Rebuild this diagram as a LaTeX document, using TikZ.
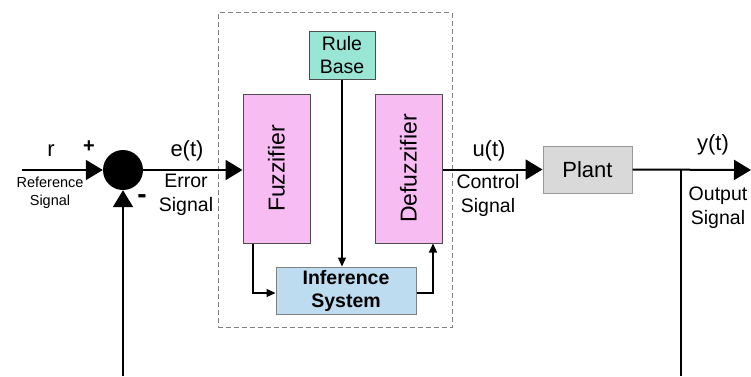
\documentclass[tikz,border=0pt]{standalone}
\usepackage{fontspec}
\setmainfont{Liberation Sans}
\usetikzlibrary{arrows.meta}
\definecolor{pinkfill}{HTML}{F7BDF2}
\definecolor{rulefill}{HTML}{99E6D5}
\definecolor{inffill}{HTML}{BDDCF0}
\definecolor{plantfill}{HTML}{D9D9D9}
\definecolor{boxedge}{HTML}{4D4D4D}
\definecolor{dashgray}{HTML}{808080}
\tikzset{
  mainline/.style={line width=2pt, -{Triangle[length=17pt,width=20pt]}},
  plainline/.style={line width=2pt},
  thinline/.style={line width=1.1pt, -{Triangle[length=9pt,width=8pt]}},
  block/.style={draw=boxedge, line width=1pt, inner sep=0pt, align=center},
  biglabel/.style={font=\fontsize{22}{24}\selectfont},
  sublabel/.style={font=\fontsize{19.5}{24}\selectfont, align=center},
  smalllabel/.style={font=\fontsize{14.5}{18}\selectfont, align=center},
}
\begin{document}
\begin{tikzpicture}[x=1pt,y=-1pt]
\useasboundingbox (0,0) rectangle (751,376);

% controller enclosure
\node[draw=dashgray, dash pattern=on 5pt off 3pt, line width=0.8pt, minimum width=234pt, minimum height=315pt, inner sep=0pt] (ctrl) at (335,170) {};

% blocks
\node[block, fill=rulefill, minimum width=66pt, minimum height=48pt, font=\fontsize{19.5}{23}\selectfont] (rule) at (342,55) {Rule\\Base};
\node[block, fill=pinkfill, minimum width=67pt, minimum height=149pt] (fuzz) at (276.5,168.5) {\fontsize{23}{26}\selectfont\rotatebox{90}{Fuzzifier}};
\node[block, fill=pinkfill, minimum width=67pt, minimum height=149pt] (defuzz) at (408.5,168.5) {\fontsize{23}{26}\selectfont\rotatebox{90}{Defuzzifier}};
\node[block, draw=gray, fill=inffill, minimum width=140pt, minimum height=47pt, font=\fontsize{19.5}{23}\selectfont\bfseries] (inf) at (346,290.5) {Inference\\System};
\node[block, draw=gray!80, fill=plantfill, minimum width=89pt, minimum height=47pt, font=\fontsize{22}{24}\selectfont] (plant) at (587.5,169.5) {Plant};

% summing junction
\node[circle, fill=black, minimum size=40pt, inner sep=0pt] (sum) at (123,170) {};

% free ends and branch points
\coordinate (rin) at (22,170);
\coordinate (yout) at (751,170);
\coordinate (branch) at (681,170);
\coordinate (fbr) at (681,376);
\coordinate (fbl) at (123,376);
\coordinate (fzdown) at (253,293);
\coordinate (dfup) at (433,293);

% main signal path
\draw[mainline] (rin) -- (sum.west);
\draw[mainline] (sum.east) -- (fuzz.west |- sum.east);
\draw[mainline] (defuzz.east |- plant.west) -- (plant.west);
\draw[mainline] (plant.east) -- (yout);
\draw[plainline] (branch) -- (fbr);
\draw[mainline] (fbl) -- (sum.south);

% internal connections
\draw[thinline] (rule.south) -- (rule.south |- inf.north);
\draw[thinline] (fzdown |- fuzz.south) -- (fzdown) -- (inf.west |- fzdown);
\draw[thinline] (inf.east |- dfup) -- (dfup) -- (dfup |- defuzz.south);

% labels
\node[biglabel] (lr) at (51,151) {r};
\node[font=\fontsize{20}{22}\selectfont\bfseries] (lplus) at (89,147) {+};
\node[font=\fontsize{28}{30}\selectfont\bfseries, inner sep=0pt] (lminus) at (142,199) {-};
\node[smalllabel] (lref) at (50,193) {Reference\\Signal};
\node[biglabel] (le) at (187,151) {e(t)};
\node[sublabel] (lerr) at (186,195) {Error\\Signal};
\node[biglabel] (lu) at (489,151) {u(t)};
\node[sublabel] (lctl) at (488,195) {Control\\Signal};
\node[biglabel] (ly) at (713,145) {y(t)};
\node[sublabel] (lout) at (718,208) {Output\\Signal};
\end{tikzpicture}
\end{document}
